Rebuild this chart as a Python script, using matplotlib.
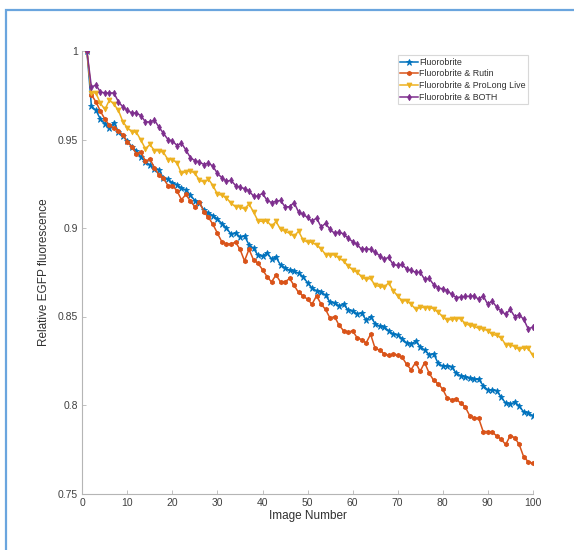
import matplotlib
matplotlib.use("Agg")
import matplotlib.pyplot as plt
from matplotlib.patches import Rectangle

plt.rcParams['font.family'] = ['Liberation Sans', 'DejaVu Sans']

image_number = list(range(1, 101))

fluorobrite = [
    1.0000, 0.9688, 0.9665, 0.9615, 0.9590, 0.9565, 0.9595, 0.9545, 0.9520, 0.9490,
    0.9460, 0.9435, 0.9400, 0.9375, 0.9355, 0.9335, 0.9330, 0.9280, 0.9275, 0.9255,
    0.9245, 0.9225, 0.9215, 0.9185, 0.9155, 0.9140, 0.9100, 0.9085, 0.9070, 0.9050,
    0.9025, 0.9000, 0.8965, 0.8970, 0.8950, 0.8955, 0.8905, 0.8885, 0.8845, 0.8840,
    0.8860, 0.8825, 0.8835, 0.8790, 0.8775, 0.8760, 0.8755, 0.8745, 0.8725, 0.8690,
    0.8660, 0.8645, 0.8640, 0.8620, 0.8580, 0.8575, 0.8560, 0.8570, 0.8535, 0.8530,
    0.8515, 0.8520, 0.8480, 0.8500, 0.8460, 0.8445, 0.8440, 0.8420, 0.8400, 0.8395,
    0.8375, 0.8350, 0.8345, 0.8360, 0.8330, 0.8310, 0.8285, 0.8290, 0.8235, 0.8220,
    0.8220, 0.8215, 0.8180, 0.8165, 0.8160, 0.8150, 0.8145, 0.8145, 0.8110, 0.8085,
    0.8085, 0.8080, 0.8045, 0.8010, 0.8005, 0.8015, 0.7995, 0.7960, 0.7955, 0.7940,
]

rutin = [
    1.0000, 0.9753, 0.9713, 0.9660, 0.9615, 0.9580, 0.9565, 0.9550, 0.9526, 0.9486,
    0.9457, 0.9420, 0.9430, 0.9377, 0.9390, 0.9340, 0.9300, 0.9280, 0.9240, 0.9240,
    0.9210, 0.9160, 0.9190, 0.9150, 0.9120, 0.9148, 0.9090, 0.9060, 0.9020, 0.8970,
    0.8920, 0.8910, 0.8910, 0.8920, 0.8880, 0.8814, 0.8880, 0.8820, 0.8800, 0.8765,
    0.8725, 0.8695, 0.8735, 0.8695, 0.8695, 0.8715, 0.8676, 0.8636, 0.8617, 0.8597,
    0.8570, 0.8617, 0.8570, 0.8540, 0.8490, 0.8500, 0.8450, 0.8420, 0.8410, 0.8420,
    0.8380, 0.8370, 0.8350, 0.8400, 0.8320, 0.8310, 0.8290, 0.8280, 0.8286, 0.8280,
    0.8270, 0.8230, 0.8200, 0.8240, 0.8190, 0.8240, 0.8180, 0.8140, 0.8120, 0.8090,
    0.8040, 0.8030, 0.8034, 0.8010, 0.7990, 0.7940, 0.7925, 0.7925, 0.7850, 0.7850,
    0.7846, 0.7826, 0.7806, 0.7777, 0.7826, 0.7816, 0.7777, 0.7707, 0.7680, 0.7670,
]

prolong = [
    1.0000, 0.9763, 0.9763, 0.9704, 0.9670, 0.9723, 0.9700, 0.9664, 0.9600, 0.9565,
    0.9545, 0.9540, 0.9496, 0.9447, 0.9472, 0.9437, 0.9437, 0.9427, 0.9387, 0.9387,
    0.9368, 0.9308, 0.9318, 0.9324, 0.9308, 0.9270, 0.9260, 0.9275, 0.9240, 0.9190,
    0.9186, 0.9170, 0.9140, 0.9120, 0.9120, 0.9107, 0.9136, 0.9090, 0.9040, 0.9037,
    0.9040, 0.9010, 0.9037, 0.8992, 0.8982, 0.8970, 0.8953, 0.8982, 0.8933, 0.8920,
    0.8920, 0.8903, 0.8883, 0.8850, 0.8848, 0.8848, 0.8830, 0.8814, 0.8785, 0.8765,
    0.8750, 0.8725, 0.8710, 0.8715, 0.8676, 0.8670, 0.8666, 0.8690, 0.8646, 0.8617,
    0.8587, 0.8590, 0.8570, 0.8540, 0.8553, 0.8550, 0.8550, 0.8544, 0.8524, 0.8500,
    0.8480, 0.8484, 0.8488, 0.8488, 0.8460, 0.8450, 0.8445, 0.8433, 0.8430, 0.8420,
    0.8400, 0.8393, 0.8380, 0.8340, 0.8340, 0.8330, 0.8314, 0.8324, 0.8320, 0.8280,
]

both = [
    1.0000, 0.9796, 0.9808, 0.9769, 0.9763, 0.9763, 0.9763, 0.9713, 0.9684, 0.9664,
    0.9650, 0.9650, 0.9634, 0.9600, 0.9599, 0.9610, 0.9570, 0.9535, 0.9500, 0.9492,
    0.9466, 0.9480, 0.9440, 0.9397, 0.9380, 0.9373, 0.9358, 0.9368, 0.9348, 0.9308,
    0.9283, 0.9263, 0.9270, 0.9240, 0.9230, 0.9223, 0.9210, 0.9180, 0.9180, 0.9196,
    0.9156, 0.9144, 0.9150, 0.9156, 0.9120, 0.9120, 0.9144, 0.9090, 0.9077, 0.9060,
    0.9037, 0.9057, 0.9006, 0.9026, 0.8992, 0.8970, 0.8978, 0.8966, 0.8943, 0.8923,
    0.8907, 0.8879, 0.8883, 0.8879, 0.8864, 0.8844, 0.8824, 0.8834, 0.8794, 0.8789,
    0.8794, 0.8769, 0.8760, 0.8750, 0.8750, 0.8710, 0.8715, 0.8680, 0.8662, 0.8656,
    0.8646, 0.8626, 0.8607, 0.8610, 0.8614, 0.8614, 0.8617, 0.8597, 0.8617, 0.8570,
    0.8587, 0.8553, 0.8530, 0.8512, 0.8540, 0.8500, 0.8510, 0.8484, 0.8430, 0.8440,
]

labels = ["Fluorobrite", "Fluorobrite & Rutin", "Fluorobrite & ProLong Live", "Fluorobrite & BOTH"]
colors = ["#0072BD", "#D95319", "#EDB120", "#7E2F8E"]
markers = ["*", "h", "v", "d"]
msizes = [4.5, 3.2, 3.5, 3.2]
series = [fluorobrite, rutin, prolong, both]

x_ticks = [0, 10, 20, 30, 40, 50, 60, 70, 80, 90, 100]
y_ticks = [0.75, 0.8, 0.85, 0.9, 0.95, 1.0]
y_ticklabels = ["0.75", "0.8", "0.85", "0.9", "0.95", "1"]

fig = plt.figure(figsize=(5.74, 5.5), dpi=100)
fig.patches.append(Rectangle((5.5 / 574, -0.2), 1.2, 1.2 - 9.5 / 550, transform=fig.transFigure,
                             fill=False, edgecolor="#6AA5DE", linewidth=1.6, zorder=0))

ax = fig.add_axes([82.4 / 574, 1 - 493.5 / 550, 450.3 / 574, 442.5 / 550])

for s, lab, c, m, ms in zip(series, labels, colors, markers, msizes):
    ax.plot(image_number, s, color=c, marker=m, markersize=ms, linewidth=1.1, label=lab,
            markeredgewidth=0.6)

ax.set_xlim(0, 100)
ax.set_ylim(0.75, 1.0)
ax.set_xticks(x_ticks)
ax.set_yticks(y_ticks)
ax.set_yticklabels(y_ticklabels)

for side in ["top", "right"]:
    ax.spines[side].set_visible(False)
for side in ["left", "bottom"]:
    ax.spines[side].set_color("#B5B5B5")
    ax.spines[side].set_linewidth(0.8)

ax.tick_params(direction="in", length=3, width=0.6, color="#B5B5B5", labelsize=7.5,
               labelcolor="#404040", pad=3)

ax.set_xlabel("Image Number", fontsize=8.5, color="#303030", labelpad=2)
ax.set_ylabel("Relative EGFP fluorescence", fontsize=8.5, color="#303030", labelpad=6)

leg = ax.legend(loc="upper right", bbox_to_anchor=(0.99, 0.99), fontsize=6.4, frameon=True,
                fancybox=False, edgecolor="#CFCFCF", handlelength=2.0, handletextpad=0.2,
                labelspacing=0.3, borderpad=0.25, borderaxespad=0)
leg.get_frame().set_linewidth(0.8)
for t in leg.get_texts():
    t.set_color("#303030")

fig.savefig("out.png", dpi=100)
